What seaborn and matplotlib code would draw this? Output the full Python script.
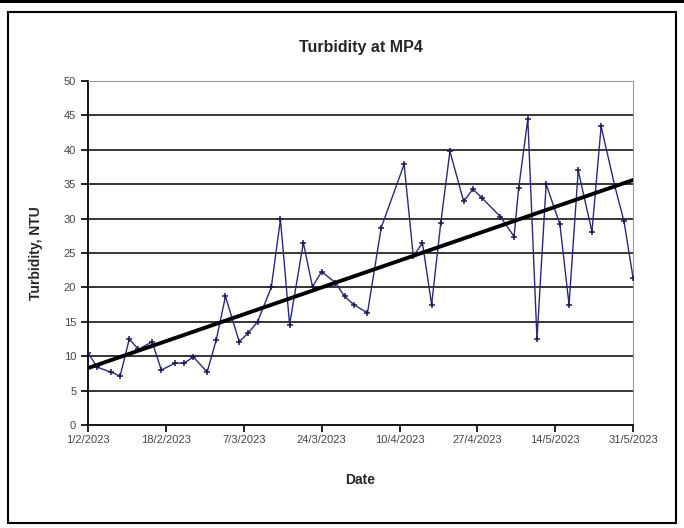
import numpy as np
import pandas as pd
import matplotlib
matplotlib.use("Agg")
import matplotlib.pyplot as plt
import seaborn as sns

# sample days (offset from 1/2/2023) and turbidity readings at MP4
day_offsets = [0, 2, 5, 7, 9, 11, 14, 16, 19, 21, 23, 26, 28, 30, 33, 35, 37, 40,
               42, 44, 47, 49, 51, 54, 56, 58, 61, 64, 69, 71, 73, 75, 77, 79,
               82, 84, 86, 90, 93, 94, 96, 98, 100, 103, 105, 107, 110, 112, 115,
               117, 119]
turbidity = [10.5, 8.4, 7.7, 7.1, 12.5, 11.0, 12.1, 8.0, 9.0, 9.0, 9.9, 7.7,
             12.4, 18.7, 12.1, 13.4, 15.0, 20.0, 29.9, 14.6, 26.5, 20.1, 22.3,
             20.7, 18.7, 17.5, 16.3, 28.7, 37.9, 24.5, 26.5, 17.5, 29.4, 39.8,
             32.5, 34.3, 33.0, 30.3, 27.4, 34.4, 44.5, 12.5, 35.0, 29.2, 17.5,
             37.0, 28.1, 43.4, 34.7, 29.6, 21.3]

tick_offsets = [0, 17, 34, 51, 68, 85, 102, 119]
tick_labels = ["1/2/2023", "18/2/2023", "7/3/2023", "24/3/2023",
               "10/4/2023", "27/4/2023", "14/5/2023", "31/5/2023"]

start = pd.Timestamp("2023-02-01")
df = pd.DataFrame({
    "Date": start + pd.to_timedelta(day_offsets, unit="D"),
    "Turbidity": turbidity,
})

# linear trendline like Excel
coef = np.polyfit(day_offsets, turbidity, 1)
trend = pd.DataFrame({
    "Date": [start, start + pd.Timedelta(days=119)],
    "Turbidity": np.polyval(coef, [0, 119]),
})

sns.set_style("white")
plt.rcParams['font.family'] = ['Liberation Sans', 'DejaVu Sans']

fig = plt.figure(figsize=(6.84, 5.28), dpi=100)
ax = fig.add_axes([0.1287, 0.195, 0.797, 0.6515])

# outer chart border
fig.patches.append(plt.Rectangle((0.012, 0.01), 0.976, 0.968, transform=fig.transFigure,
                                 fill=False, edgecolor='black', linewidth=1.5))
fig.patches.append(plt.Rectangle((0.0, 0.994), 1.0, 0.006, transform=fig.transFigure,
                                 facecolor='black', edgecolor='none'))

for yv in range(5, 50, 5):
    ax.axhline(yv, color='black', linewidth=1.1, zorder=1)

sns.lineplot(data=df, x="Date", y="Turbidity", color='#2a2a7a', linewidth=1.0,
             marker='+', markersize=4.5, markeredgewidth=1.1,
             markeredgecolor='#1a1a50', ax=ax, zorder=3)
sns.lineplot(data=trend, x="Date", y="Turbidity", color='black', linewidth=2.8,
             ax=ax, zorder=4)

ax.set_xlim(start, start + pd.Timedelta(days=119))
ax.set_ylim(0, 50)
ax.set_yticks(range(0, 51, 5))
ax.set_xticks([start + pd.Timedelta(days=d) for d in tick_offsets])
ax.set_xticklabels(tick_labels)

ax.tick_params(axis='both', direction='out', length=5, width=1.2, labelsize=8,
               labelcolor='#444444', color='black', bottom=True, left=True)
ax.tick_params(axis='x', pad=2)

ax.spines['left'].set_color('black')
ax.spines['left'].set_linewidth(1.3)
ax.spines['bottom'].set_color('black')
ax.spines['bottom'].set_linewidth(1.3)
ax.spines['top'].set_color('#999999')
ax.spines['right'].set_color('#999999')

ax.set_title("Turbidity at MP4", fontsize=11.5, fontweight='bold', pad=21)
ax.set_xlabel("Date", fontsize=10, fontweight='bold', labelpad=20)
ax.set_ylabel("Turbidity, NTU", fontsize=10, fontweight='bold', labelpad=15)

fig.savefig("out.png", dpi=100)
